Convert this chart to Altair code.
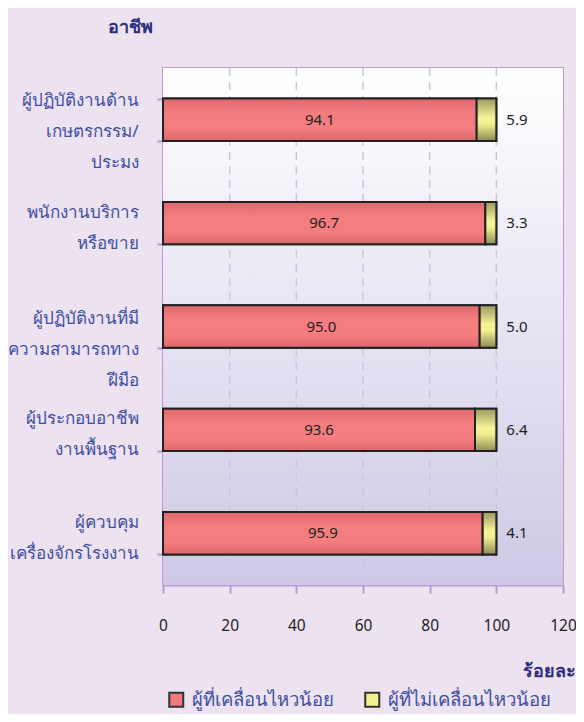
import altair as alt
import pandas as pd

# --- data ---
category_lines = [
    ["ผู้ปฏิบัติงานด้าน", "เกษตรกรรม/", "ประมง"],
    ["พนักงานบริการ", "หรือขาย"],
    ["ผู้ปฏิบัติงานที่มี", "ความสามารถทาง", "ฝีมือ"],
    ["ผู้ประกอบอาชีพ", "งานพื้นฐาน"],
    ["ผู้ควบคุม", "เครื่องจักรโรงงาน"],
]
categories = ["|".join(c) for c in category_lines]
series_names = ["ผู้ที่เคลื่อนไหวน้อย", "ผู้ที่ไม่เคลื่อนไหวน้อย"]
low_active = [94.1, 96.7, 95.0, 93.6, 95.9]
not_low_active = [5.9, 3.3, 5.0, 6.4, 4.1]
x_ticks = [0, 20, 40, 60, 80, 100, 120]
grid_values = [20, 40, 60, 80, 100]

rows = []
for c, a, b in zip(categories, low_active, not_low_active):
    rows.append({"cat": c, "series": series_names[0], "value": a, "order": 0})
    rows.append({"cat": c, "series": series_names[1], "value": b, "order": 1})
df = pd.DataFrame(rows)

W, H = 400, 517
PURPLE = "#b99bd2"
LABEL_BLUE = "#3d4fa0"
TITLE_NAVY = "#2e2f7b"
PINK = "#f27a7e"
YELLOW = "#f3f08f"
FONT = "Noto Sans"

y_enc = alt.Y(
    "cat:N",
    sort=categories,
    scale=alt.Scale(domain=categories, paddingInner=0.59, paddingOuter=0.295),
    axis=alt.Axis(
        title="อาชีพ",
        titleAngle=0,
        titleX=-33,
        titleY=-41,
        titleAlign="center",
        titleBaseline="middle",
        titleFontSize=18,
        titleFontWeight="bold",
        titleColor=TITLE_NAVY,
        titleFont=FONT,
        labelExpr="split(datum.label, '|')",
        labelFont=FONT,
        labelFontSize=17,
        labelColor=LABEL_BLUE,
        labelLineHeight=31,
        labelPadding=19,
        labelLimit=300,
        labelAlign="right",
        labelBaseline="middle",
        labelOffset={
            "condition": [
                {"test": f"datum.value == '{categories[2]}'", "value": -8},
                {"test": "length(split(datum.value, '|')) > 2", "value": -19},
            ],
            "value": -11,
        },
        tickBand="extent",
        tickSize=6,
        tickColor=PURPLE,
        tickWidth=2,
        domainColor=PURPLE,
        domainWidth=2,
        grid=False,
    ),
)

x_scale = alt.Scale(domain=[0, 120], nice=False, zero=True)
x_axis = alt.Axis(
    title="ร้อยละ",
    values=x_ticks,
    titleX=412,
    titleY=86,
    titleAlign="right",
    titleBaseline="middle",
    titleFontSize=18,
    titleFontWeight="bold",
    titleColor=TITLE_NAVY,
    titleFont=FONT,
    labelFont=FONT,
    labelFontSize=15.5,
    labelColor="#222222",
    labelPadding=25,
    labelFlush=False,
    tickSize=8,
    tickColor=PURPLE,
    tickWidth=2,
    domainColor=PURPLE,
    domainWidth=2,
    grid=False,
)

bg = alt.Chart(pd.DataFrame({"a": [0]})).mark_rect(
    fill=alt.Gradient(
        gradient="linear",
        x1=0, y1=0, x2=0, y2=1,
        stops=[
            alt.GradientStop(offset=0, color="#ffffff"),
            alt.GradientStop(offset=1, color="#cdc9e5"),
        ],
    )
).encode(x=alt.value(0), x2=alt.value(W), y=alt.value(0), y2=alt.value(H))

grid = alt.Chart(pd.DataFrame({"g": grid_values})).mark_rule(
    color="#d5c0df", strokeWidth=1.5, strokeDash=[8, 6]
).encode(x=alt.X("g:Q", scale=x_scale, axis=x_axis))

base = alt.Chart(df).transform_stack(
    stack="value", groupby=["cat"], as_=["x0", "x1"],
    sort=[alt.SortField("order", "ascending")],
)

bars = base.mark_bar(stroke="#222222", strokeWidth=2).encode(
    y=y_enc,
    x=alt.X("x0:Q", scale=x_scale, axis=x_axis),
    x2="x1:Q",
    color=alt.Color(
        "series:N",
        scale=alt.Scale(domain=series_names, range=[PINK, YELLOW]),
        legend=alt.Legend(
            title=None,
            orient="none",
            legendX=4,
            legendY=622,
            direction="horizontal",
            symbolType="square",
            symbolSize=196,
            symbolStrokeColor="#333333",
            symbolStrokeWidth=2,
            labelFont=FONT,
            labelFontSize=18.5,
            labelColor=LABEL_BLUE,
            labelLimit=300,
            columnPadding=27,
            labelOffset=6,
            padding=0,
        ),
    ),
)

pink_overlay = base.transform_filter(
    alt.datum.order == 0
).mark_bar(
    stroke="#222222", strokeWidth=2,
    fill=alt.Gradient(
        gradient="linear", x1=0, y1=0, x2=0, y2=1,
        stops=[
            alt.GradientStop(offset=0, color="#df696c"),
            alt.GradientStop(offset=0.35, color="#f47d80"),
            alt.GradientStop(offset=0.7, color="#f47d80"),
            alt.GradientStop(offset=1, color="#dc686b"),
        ],
    ),
).encode(y=y_enc, x=alt.X("x0:Q", scale=x_scale, axis=x_axis), x2="x1:Q")

yellow_overlay = base.transform_filter(
    alt.datum.order == 1
).mark_bar(
    stroke="#222222", strokeWidth=2,
    fill=alt.Gradient(
        gradient="linear", x1=0, y1=0, x2=0, y2=1,
        stops=[
            alt.GradientStop(offset=0, color="#9a9960"),
            alt.GradientStop(offset=0.45, color="#f6f398"),
            alt.GradientStop(offset=0.6, color="#f2ef90"),
            alt.GradientStop(offset=1, color="#8c8a52"),
        ],
    ),
).encode(y=y_enc, x=alt.X("x0:Q", scale=x_scale, axis=x_axis), x2="x1:Q")

pink_text = base.transform_filter(alt.datum.order == 0).transform_calculate(
    mid="(datum.x0 + datum.x1) / 2"
).mark_text(font=FONT, fontSize=15, color="#222222", baseline="middle").encode(
    y=y_enc,
    x=alt.X("mid:Q", scale=x_scale, axis=x_axis),
    text=alt.Text("value:Q", format=".1f"),
)

yellow_text = base.transform_filter(alt.datum.order == 1).mark_text(
    font=FONT, fontSize=15, color="#222222", baseline="middle", align="left", dx=10
).encode(
    y=y_enc,
    x=alt.X("x1:Q", scale=x_scale, axis=x_axis),
    text=alt.Text("value:Q", format=".1f"),
)

chart = alt.layer(bg, grid, bars, pink_overlay, yellow_overlay, pink_text, yellow_text).properties(
    width=W,
    height=H,
    padding={"left": 155, "top": 60, "right": 13, "bottom": 129},
    autosize=alt.AutoSizeParams(type="none"),
    background="#ede2f0",
).configure_view(stroke=PURPLE, strokeWidth=2)

chart.save("out.html", embed_options={"renderer": "svg", "actions": False})
